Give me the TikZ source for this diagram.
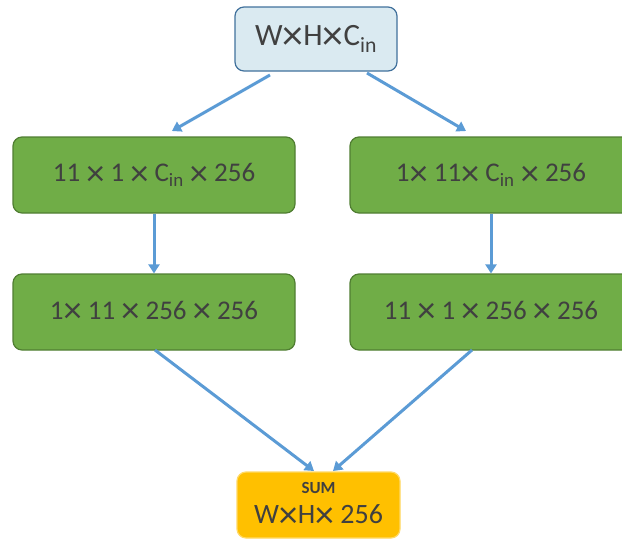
\documentclass[tikz,border=0pt]{standalone}
\usepackage{fontspec}
\setmainfont{Carlito}
\usetikzlibrary{arrows.meta}
\definecolor{txt}{HTML}{404040}
\definecolor{arr}{HTML}{5B9BD5}
\definecolor{gfill}{HTML}{70AD47}
\definecolor{gdraw}{HTML}{507E32}
\definecolor{bfill}{HTML}{DAEAF1}
\definecolor{bdraw}{HTML}{41719C}
\definecolor{ofill}{HTML}{FFC000}
\definecolor{odraw}{HTML}{FFD966}
\newcommand{\mulx}{\raisebox{-0.12em}{\scalebox{1.35}{×}}}
\tikzset{
  box/.style={rounded corners=9pt, line width=1.2pt, text=txt, inner sep=0pt},
  gbox/.style={box, fill=gfill, draw=gdraw, minimum width=282pt, minimum height=76pt, font=\fontsize{27}{32}\selectfont},
  conn/.style={draw=arr, line width=3pt, -{Triangle[width=11pt,length=9pt]}},
}
\begin{document}
\begin{tikzpicture}[x=1pt,y=-1pt]
\useasboundingbox (0,0) rectangle (622,541);
\begin{scope}
\clip (0,0) rectangle (622,541);
\node[box, fill=bfill, draw=bdraw, minimum width=162pt, minimum height=64pt, font=\fontsize{31}{36}\selectfont] (top) at (316,39) {W\mulx H\mulx C\textsubscript{in}};
\node[gbox] (l1) at (154,175) {11 \mulx{} 1 \mulx{} C\textsubscript{in} \mulx{} 256};
\node[gbox] (r1) at (491,175) {1\mulx{} 11\mulx{} C\textsubscript{in} \mulx{} 256};
\node[gbox] (l2) at (154,312) {1\mulx{} 11 \mulx{} 256 \mulx{} 256};
\node[gbox] (r2) at (491,312) {11 \mulx{} 1 \mulx{} 256 \mulx{} 256};
\node[box, fill=ofill, draw=odraw, minimum width=163pt, minimum height=66pt, align=center, font=\fontsize{28}{30}\selectfont] (sum) at (318.5,505) {{\fontsize{17}{18}\selectfont\bfseries SUM}\\W\mulx H\mulx{} 256};
\end{scope}
\coordinate (ta) at (270,75);
\coordinate (tb) at (367,73);
\coordinate (la) at (155,350);
\coordinate (ra) at (472,350);
\draw[conn] (ta) -- (172,131) coordinate (l1t);
\draw[conn] (tb) -- (466,131) coordinate (r1t);
\draw[conn] (l1.south) -- (l2.north);
\draw[conn] (r1.south) -- (r2.north);
\draw[conn] (la) -- (314,471) coordinate (sa);
\draw[conn] (ra) -- (333,471) coordinate (sb);
\end{tikzpicture}
\end{document}
